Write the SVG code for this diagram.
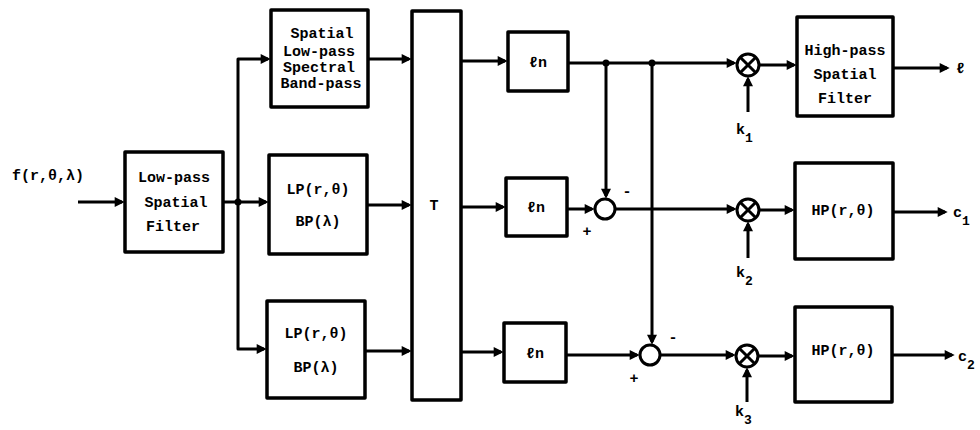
<svg xmlns="http://www.w3.org/2000/svg" width="980" height="430" viewBox="0 0 980 430">
<style>
.box{fill:#fff;stroke:#000;stroke-width:3.5;stroke-linejoin:round}
.ln{fill:none;stroke:#000;stroke-width:3;stroke-linejoin:round}
.arr{marker-end:url(#ah)}
.circ{fill:#fff;stroke:#000;stroke-width:3}
.t{font-family:"Liberation Mono","DejaVu Sans Mono",monospace;font-weight:bold;font-size:15px;fill:#000;text-anchor:middle}
.l{font-family:"Liberation Mono","DejaVu Sans Mono",monospace;font-weight:bold;font-size:15px;fill:#000}
.dot{fill:#000}
</style>
<defs>
<marker id="ah" viewBox="0 0 10 10" refX="7.3" refY="5" markerWidth="11" markerHeight="10" markerUnits="userSpaceOnUse" orient="auto">
<path d="M0,0 L10,5 L0,10 z" fill="#000"/>
</marker>
</defs>
<rect width="980" height="430" fill="#fff"/>

<g id="connectors">
<path class="ln arr" d="M78,202 H122"/>
<path class="ln" d="M223,202 H238"/>
<path class="ln arr" d="M238,202 V59 H268"/>
<path class="ln arr" d="M238,202 H266"/>
<path class="ln arr" d="M238,202 V349 H264"/>
<path class="ln arr" d="M368,59 H409"/>
<path class="ln arr" d="M367,205 H409"/>
<path class="ln arr" d="M365,351 H409"/>
<path class="ln arr" d="M461,61 H505"/>
<path class="ln arr" d="M461,207 H503"/>
<path class="ln arr" d="M461,352 H501"/>
<path class="ln arr" d="M568,63 H734"/>
<path class="ln arr" d="M606,63 V196"/>
<path class="ln arr" d="M652,63 V342"/>
<path class="ln arr" d="M567,209 H592"/>
<path class="ln arr" d="M615,209 H734"/>
<path class="ln arr" d="M566,355 H637"/>
<path class="ln arr" d="M660,355 H733"/>
<path class="ln arr" d="M759,65 H794"/>
<path class="ln arr" d="M759,210 H792"/>
<path class="ln arr" d="M758,356 H792"/>
<path class="ln arr" d="M748,112 V79"/>
<path class="ln arr" d="M748,258 V224"/>
<path class="ln arr" d="M747,402 V370"/>
<path class="ln arr" d="M893,68 H947"/>
<path class="ln arr" d="M893,212 H945"/>
<path class="ln arr" d="M892,355 H952"/>
<circle class="dot" cx="238" cy="202" r="3.5"/>
<circle class="dot" cx="606" cy="63" r="3.5"/>
<circle class="dot" cx="652" cy="63" r="3.5"/>
</g>

<g id="input-label"><text class="t" x="48" y="180">f(r,θ,λ)</text></g>

<g id="lp-spatial-filter">
<rect class="box" x="125" y="152" width="98" height="100"/>
<text class="t" x="174" y="182">Low-pass</text>
<text class="t" x="176" y="207">Spatial</text>
<text class="t" x="173" y="231">Filter</text>
</g>

<g id="spatial-lp-spectral-bp">
<rect class="box" x="271" y="10" width="97" height="97"/>
<text class="t" x="322" y="38">Spatial</text>
<text class="t" x="319" y="56">Low-pass</text>
<text class="t" x="319" y="72">Spectral</text>
<text class="t" x="321" y="88">Band-pass</text>
</g>

<g id="lpbp-1">
<rect class="box" x="269" y="155" width="98" height="99"/>
<text class="t" x="318" y="194">LP(r,θ)</text>
<text class="t" x="318" y="226">BP(λ)</text>
</g>

<g id="lpbp-2">
<rect class="box" x="267" y="301" width="98" height="97"/>
<text class="t" x="316" y="338">LP(r,θ)</text>
<text class="t" x="316" y="372">BP(λ)</text>
</g>

<g id="T">
<rect class="box" x="412" y="11" width="49" height="389"/>
<text class="t" x="434" y="210">T</text>
</g>

<g id="ln-1">
<rect class="box" x="508" y="32" width="60" height="59"/>
<text class="t" x="538" y="67">ℓn</text>
</g>
<g id="ln-2">
<rect class="box" x="506" y="178" width="61" height="58"/>
<text class="t" x="536" y="212">ℓn</text>
</g>
<g id="ln-3">
<rect class="box" x="504" y="323" width="62" height="59"/>
<text class="t" x="535" y="358">ℓn</text>
</g>

<g id="sum-1">
<circle class="circ" cx="605" cy="209" r="10"/>
<text class="t" x="627" y="196">-</text>
<text class="t" x="587" y="236">+</text>
</g>
<g id="sum-2">
<circle class="circ" cx="650" cy="355" r="10"/>
<text class="t" x="673" y="342">-</text>
<text class="t" x="634" y="383">+</text>
</g>

<g id="mult-1">
<circle class="circ" cx="748" cy="65" r="11"/>
<path class="ln" d="M740.2,57.2 L755.8,72.8 M755.8,57.2 L740.2,72.8" stroke-width="2.5"/>
<text class="l" x="736" y="134">k<tspan font-size="13" dy="8">1</tspan></text>
</g>
<g id="mult-2">
<circle class="circ" cx="748" cy="210" r="11"/>
<path class="ln" d="M740.2,202.2 L755.8,217.8 M755.8,202.2 L740.2,217.8" stroke-width="2.5"/>
<text class="l" x="736" y="277">k<tspan font-size="13" dy="8">2</tspan></text>
</g>
<g id="mult-3">
<circle class="circ" cx="747" cy="356" r="11"/>
<path class="ln" d="M739.2,348.2 L754.8,363.8 M754.8,348.2 L739.2,363.8" stroke-width="2.5"/>
<text class="l" x="735" y="416">k<tspan font-size="13" dy="8">3</tspan></text>
</g>

<g id="hp-spatial-filter">
<rect class="box" x="797" y="17" width="96" height="99"/>
<text class="t" x="845" y="55">High-pass</text>
<text class="t" x="845" y="79">Spatial</text>
<text class="t" x="845" y="103">Filter</text>
</g>
<g id="hp-1">
<rect class="box" x="795" y="163" width="98" height="96"/>
<text class="t" x="843" y="215">HP(r,θ)</text>
</g>
<g id="hp-2">
<rect class="box" x="795" y="307" width="97" height="95"/>
<text class="t" x="843" y="355">HP(r,θ)</text>
</g>

<g id="outputs">
<text class="l" x="956" y="73">ℓ</text>
<text class="l" x="953" y="217">c<tspan font-size="13" dy="8">1</tspan></text>
<text class="l" x="958" y="361">c<tspan font-size="13" dy="8">2</tspan></text>
</g>
</svg>
